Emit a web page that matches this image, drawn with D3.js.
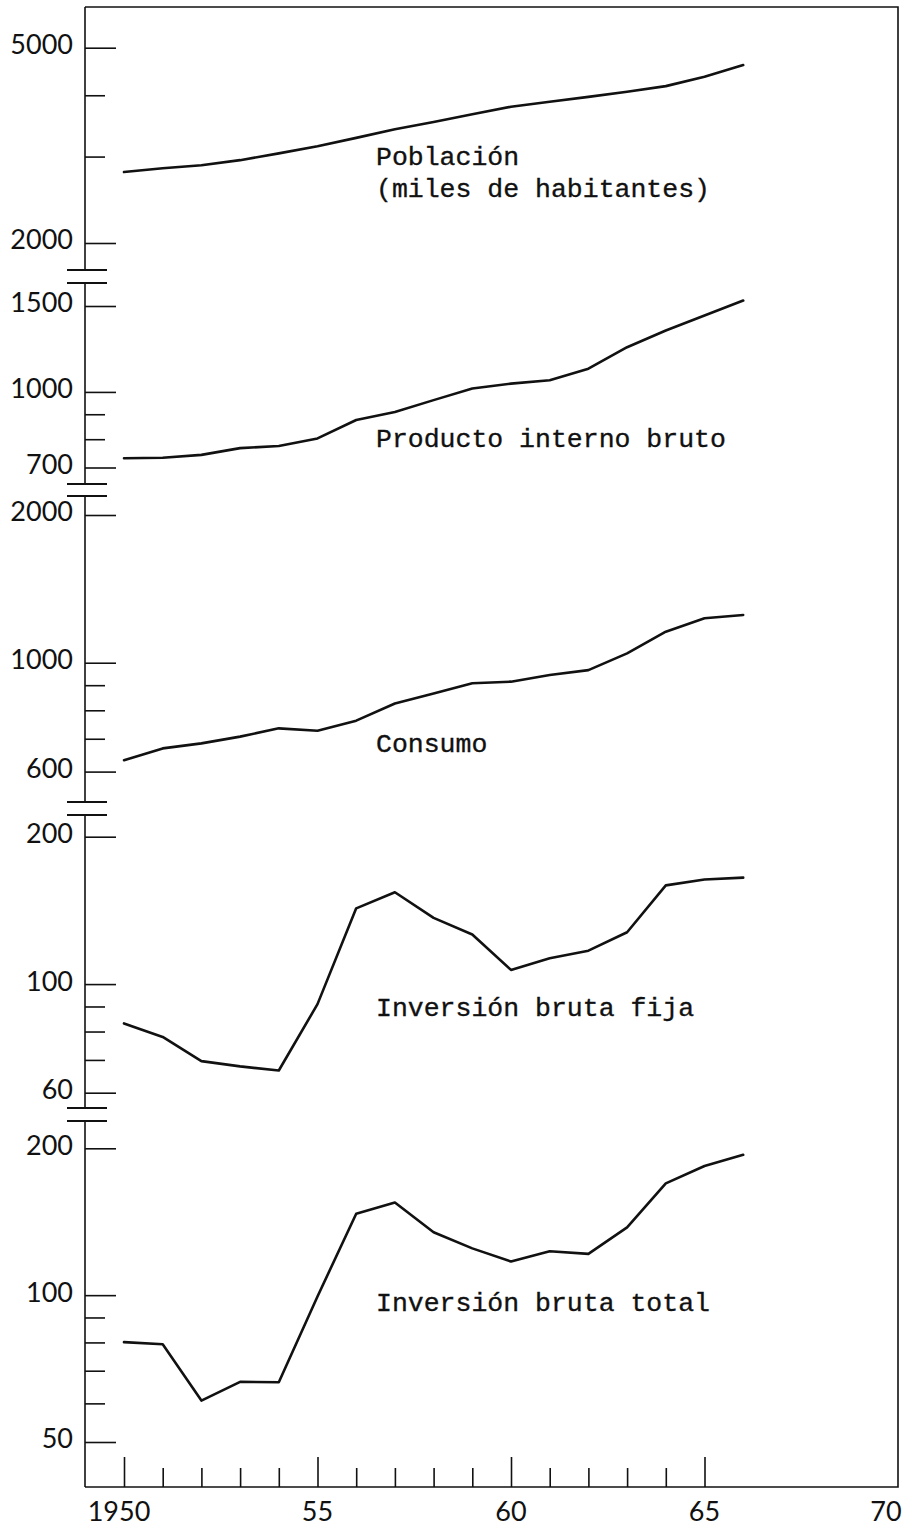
<!DOCTYPE html>
<html>
<head>
<meta charset="utf-8">
<script src="https://cdn.jsdelivr.net/npm/d3@7"></script>
<style>
  html, body { margin: 0; padding: 0; background: #ffffff; }
  svg { display: block; }
</style>
</head>
<body>
<svg id="chart" width="907" height="1531"></svg>
<script>
// Años de la serie
const years = [1950, 1951, 1952, 1953, 1954, 1955, 1956, 1957, 1958,
               1959, 1960, 1961, 1962, 1963, 1964, 1965, 1966];

// Población (miles de habitantes)
const poblacion = [2790, 2840, 2880, 2950, 3045, 3150, 3275, 3410, 3530,
                   3660, 3790, 3880, 3970, 4065, 4175, 4365, 4610];

// Producto interno bruto
const pib = [731, 733, 743, 767, 775, 803, 876, 910, 962,
             1016, 1040, 1057, 1116, 1235, 1336, 1434, 1539];

// Consumo
const consumo = [633, 669, 685, 707, 735, 727, 762, 826, 866,
                 908, 915, 944, 966, 1045, 1157, 1232, 1251];

// Inversión bruta fija
const inversionFija = [83.1, 78.0, 69.6, 67.9, 66.6, 91, 142.8, 154, 136.5,
                       126.3, 106.9, 112.9, 117, 127.6, 159.1, 163.5, 165];

// Inversión bruta total
const inversionTotal = [80.1, 79.3, 60.8, 66.4, 66.3, 99.4, 146.8, 154.8, 134.6,
                        124.7, 117.2, 123, 121.5, 137.7, 169.5, 184, 194];

// Marcas de los ejes verticales (todas) y las que llevan número
const ticksPoblacion = [2000, 3000, 4000, 5000];
const rotulosPoblacion = [2000, 5000];
const ticksPib = [700, 800, 900, 1000, 1500];
const rotulosPib = [700, 1000, 1500];
const ticksConsumo = [600, 700, 800, 900, 1000, 2000];
const rotulosConsumo = [600, 1000, 2000];
const ticksFija = [60, 70, 80, 90, 100, 200];
const rotulosFija = [60, 100, 200];
const ticksTotal = [50, 60, 70, 80, 90, 100, 200];
const rotulosTotal = [50, 100, 200];

// Eje horizontal
const aniosMarcas = [1950, 1951, 1952, 1953, 1954, 1955, 1956, 1957, 1958,
                     1959, 1960, 1961, 1962, 1963, 1964, 1965];
const aniosRotulos = [1950, 1955, 1960, 1965, 1970];
const textosRotulos = ["1950", "55", "60", "65", "70"];

// ---------------------------------------------------------------
const svg = d3.select("#chart");

const frame = { left: 85, right: 898, top: 7, bottom: 1487 };
const numFont = "Lato, 'Open Sans', sans-serif";
const typeFont = "'Liberation Mono', 'DejaVu Sans Mono', monospace";

const x = d3.scaleLinear().domain([1950, 1970]).range([124, 898]);

// Each band is its own logarithmic scale; the axis is broken between bands.
const panels = [
  { values: poblacion, domain: [2000, 5000], range: [243, 47.7],
    ticks: ticksPoblacion, labelled: rotulosPoblacion,
    title: ["Población", "(miles de habitantes)"], titleY: 165 },
  { values: pib, domain: [700, 1500], range: [467.5, 306],
    ticks: ticksPib, labelled: rotulosPib,
    title: ["Producto interno bruto"], titleY: 447 },
  { values: consumo, domain: [600, 2000], range: [771.6, 515],
    ticks: ticksConsumo, labelled: rotulosConsumo,
    title: ["Consumo"], titleY: 752 },
  { values: inversionFija, domain: [60, 200], range: [1092.7, 836.7],
    ticks: ticksFija, labelled: rotulosFija,
    title: ["Inversión bruta fija"], titleY: 1016 },
  { values: inversionTotal, domain: [50, 200], range: [1442, 1148.3],
    ticks: ticksTotal, labelled: rotulosTotal,
    title: ["Inversión bruta total"], titleY: 1311 }
];

// axis breaks (pairs of short strokes across the left axis)
const breaks = [[270, 283], [484, 496], [802, 815], [1108, 1121]];

const ink = "#111";

// frame: top, right, bottom
svg.append("path")
  .attr("d", `M${frame.left},${frame.top}H${frame.right}V${frame.bottom}H${frame.left}`)
  .attr("fill", "none")
  .attr("stroke", ink)
  .attr("stroke-width", 1.6);

// left axis with gaps at the breaks
const stops = [frame.top];
breaks.forEach(b => { stops.push(b[0]); stops.push(b[1]); });
stops.push(frame.bottom);
for (let i = 0; i < stops.length; i += 2) {
  svg.append("line")
    .attr("x1", frame.left).attr("x2", frame.left)
    .attr("y1", stops[i]).attr("y2", stops[i + 1])
    .attr("stroke", ink).attr("stroke-width", 1.6);
}
breaks.forEach(b => {
  b.forEach(yb => {
    svg.append("line")
      .attr("x1", frame.left - 18).attr("x2", frame.left + 22)
      .attr("y1", yb).attr("y2", yb)
      .attr("stroke", ink).attr("stroke-width", 1.8);
  });
});

const line = d3.line().curve(d3.curveLinear);

panels.forEach(p => {
  const y = d3.scaleLog().domain(p.domain).range(p.range);

  // ticks drawn with a d3 axis on the right side of the frame edge
  const axis = d3.axisRight(y)
    .tickValues(p.ticks)
    .tickSize(0)
    .tickFormat("");
  const g = svg.append("g")
    .attr("transform", `translate(${frame.left},0)`)
    .call(axis);
  g.select(".domain").remove();
  g.selectAll(".tick line")
    .attr("x2", d => p.labelled.includes(d) ? 31 : 20)
    .attr("stroke", ink)
    .attr("stroke-width", 1.6);

  // numbers on the left of the axis
  svg.append("g").selectAll("text")
    .data(p.labelled)
    .join("text")
    .attr("x", 73)
    .attr("y", d => y(d) - 3)
    .attr("dy", "0.35em")
    .attr("text-anchor", "end")
    .attr("font-family", numFont)
    .attr("font-size", 27)
    .attr("fill", ink)
    .text(d => d);

  // the series itself
  svg.append("path")
    .datum(p.values.map((v, i) => [x(years[i]), y(v)]))
    .attr("d", line)
    .attr("fill", "none")
    .attr("stroke", ink)
    .attr("stroke-width", 2.6)
    .attr("stroke-linejoin", "round")
    .attr("stroke-linecap", "round");

  // series title in typewriter lettering
  const t = svg.append("text")
    .attr("font-family", typeFont)
    .attr("font-size", 26.5)
    .attr("fill", ink)
    .attr("stroke", ink)
    .attr("stroke-width", 0.35);
  p.title.forEach((s, k) => {
    t.append("tspan")
      .attr("x", 376)
      .attr("y", p.titleY + k * 32)
      .text(s);
  });
});

// bottom axis: yearly ticks, taller every five years
const xAxis = d3.axisTop(x)
  .tickValues(aniosMarcas)
  .tickSize(0)
  .tickFormat("");
const gx = svg.append("g")
  .attr("transform", `translate(0,${frame.bottom})`)
  .call(xAxis);
gx.select(".domain").remove();
gx.selectAll(".tick line")
  .attr("y2", d => aniosRotulos.includes(d) ? -30 : -19)
  .attr("stroke", ink)
  .attr("stroke-width", 1.6);

svg.append("g").selectAll("text")
  .data(aniosRotulos)
  .join("text")
  .attr("x", (d, i) => Math.min(x(d) - (i === 0 ? 5 : 0), 907 - 21))
  .attr("y", 1521)
  .attr("text-anchor", "middle")
  .attr("font-family", numFont)
  .attr("font-size", 27)
  .attr("fill", ink)
  .text((d, i) => textosRotulos[i]);
</script>
</body>
</html>
